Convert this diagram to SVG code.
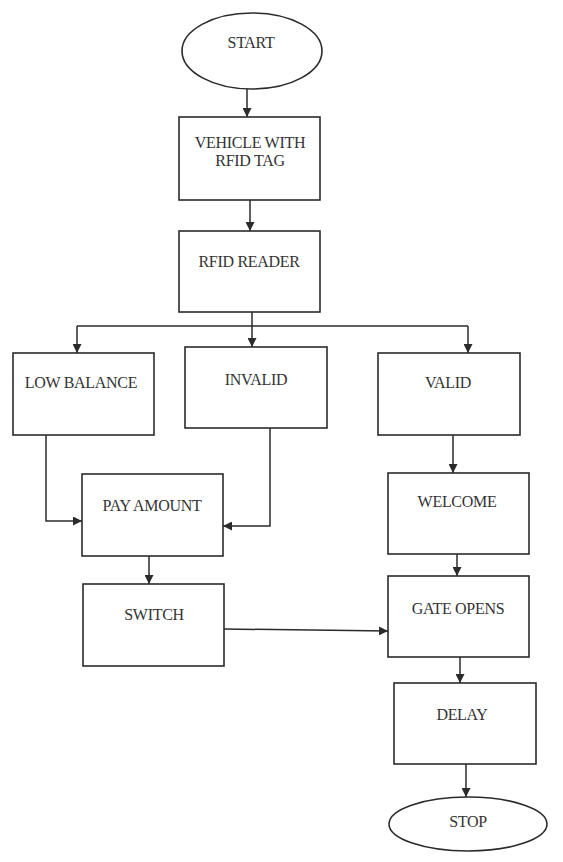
<svg xmlns="http://www.w3.org/2000/svg" width="563" height="862" viewBox="0 0 563 862">
<defs>
<marker id="arr" markerUnits="userSpaceOnUse" markerWidth="9" markerHeight="9" refX="9" refY="4.5" orient="auto">
<path d="M0,0 L9,4.5 L0,9 z" fill="#2b2b2b"/>
</marker>
<style>
.box{fill:#fff;stroke:#2b2b2b;stroke-width:1.6}
.t{font-family:"Liberation Serif","Times New Roman",serif;font-size:16px;fill:#333;text-anchor:middle;letter-spacing:-0.3px}
.c{fill:none;stroke:#2b2b2b;stroke-width:1.5;marker-end:url(#arr)}
.l{fill:none;stroke:#2b2b2b;stroke-width:1.5}
</style>
</defs>
<rect width="563" height="862" fill="#fff"/>
<g id="start"><ellipse class="box" cx="252" cy="51" rx="70" ry="38"/><text class="t" x="251" y="48">START</text></g>
<g id="vehicle"><rect class="box" x="179" y="117" width="141" height="83"/><text class="t" x="250" y="148">VEHICLE WITH</text><text class="t" x="250" y="166">RFID TAG</text></g>
<g id="reader"><rect class="box" x="179" y="231" width="141" height="81"/><text class="t" x="249" y="267">RFID READER</text></g>
<g id="low"><rect class="box" x="13" y="353" width="141" height="82"/><text class="t" x="81" y="388">LOW BALANCE</text></g>
<g id="invalid"><rect class="box" x="185" y="347" width="142" height="81"/><text class="t" x="256" y="385">INVALID</text></g>
<g id="valid"><rect class="box" x="378" y="353" width="142" height="82"/><text class="t" x="448" y="388">VALID</text></g>
<g id="pay"><rect class="box" x="82" y="474" width="141" height="82"/><text class="t" x="152" y="511">PAY AMOUNT</text></g>
<g id="welcome"><rect class="box" x="388" y="473" width="141" height="81"/><text class="t" x="457" y="507">WELCOME</text></g>
<g id="switch"><rect class="box" x="83" y="584" width="141" height="82"/><text class="t" x="154" y="620">SWITCH</text></g>
<g id="gate"><rect class="box" x="388" y="576" width="141" height="81"/><text class="t" x="458" y="614">GATE OPENS</text></g>
<g id="delay"><rect class="box" x="394" y="683" width="142" height="81"/><text class="t" x="462" y="720">DELAY</text></g>
<g id="stop"><ellipse class="box" cx="468" cy="824" rx="79" ry="27"/><text class="t" x="468" y="827">STOP</text></g>
<g id="connectors">
<path class="c" d="M247,89 L247,117"/>
<path class="c" d="M250,200 L250,231"/>
<path class="c" d="M252,312 L252,347"/>
<path class="l" d="M77,326 L468,326"/>
<path class="c" d="M77,326 L77,353"/>
<path class="c" d="M468,326 L468,353"/>
<path class="c" d="M46,435 L46,521 L82,521"/>
<path class="c" d="M270,428 L270,526 L223,526"/>
<path class="c" d="M453,435 L453,473"/>
<path class="c" d="M149,556 L149,584"/>
<path class="c" d="M457,554 L457,576"/>
<path class="c" d="M224,629 L388,631"/>
<path class="c" d="M460,657 L460,683"/>
<path class="c" d="M466,764 L466,797"/>
</g>
</svg>
